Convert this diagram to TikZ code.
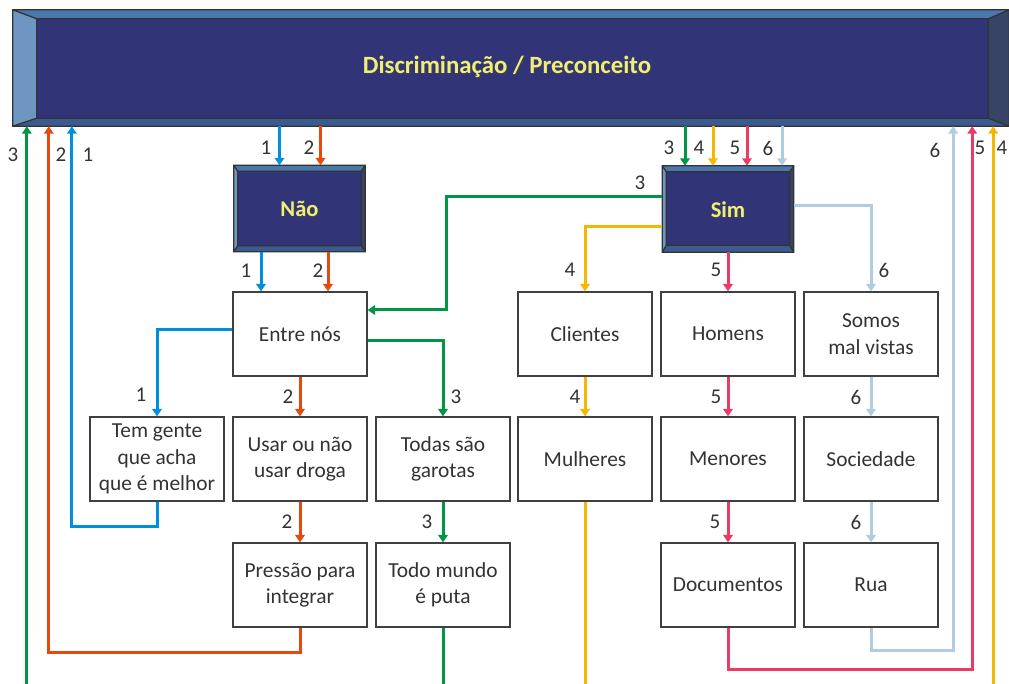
\documentclass[tikz,border=0pt]{standalone}
\usepackage{fontspec}
\setmainfont{Carlito}
\usetikzlibrary{arrows.meta,calc}

\definecolor{face}{HTML}{313578}
\definecolor{bvtopc}{HTML}{4A78AE}
\definecolor{bvleftc}{HTML}{6F96C3}
\definecolor{bvbotc}{HTML}{3A5B8F}
\definecolor{bvrightc}{HTML}{384466}
\definecolor{edgegray}{HTML}{333333}
\definecolor{boxline}{HTML}{404040}
\definecolor{txt}{HTML}{333333}
\definecolor{headtxt}{HTML}{EDED82}
\definecolor{cblue}{HTML}{0090DA}
\definecolor{corange}{HTML}{E8480C}
\definecolor{cgreen}{HTML}{009646}
\definecolor{cyellow}{HTML}{F4B800}
\definecolor{cred}{HTML}{EC3A64}
\definecolor{clight}{HTML}{B0CCE0}

% yellow heading text with a soft drop shadow
\newcommand\shadowtext[1]{\makebox[0pt][l]{\hspace{1.2pt}\raisebox{-1.2pt}{\textcolor{black!75}{#1}}}#1}

% bevelled frame drawn around an (empty) node: name, left, top, right, bottom insets
\newcommand\bevelframe[5]{%
  \coordinate (#1-a) at (#1.north west);
  \coordinate (#1-b) at (#1.north east);
  \coordinate (#1-c) at (#1.south east);
  \coordinate (#1-d) at (#1.south west);
  \coordinate (#1-A) at ($(#1.north west)+(#2,#3)$);
  \coordinate (#1-B) at ($(#1.north east)+(-#4,#3)$);
  \coordinate (#1-C) at ($(#1.south east)+(-#4,-#5)$);
  \coordinate (#1-D) at ($(#1.south west)+(#2,-#5)$);
  \fill[bvtopc] (#1-a)--(#1-b)--(#1-B)--(#1-A)--cycle;
  \fill[bvrightc] (#1-b)--(#1-c)--(#1-C)--(#1-B)--cycle;
  \fill[bvbotc] (#1-c)--(#1-d)--(#1-D)--(#1-C)--cycle;
  \fill[bvleftc] (#1-d)--(#1-a)--(#1-A)--(#1-D)--cycle;
  \fill[face] (#1-A) rectangle (#1-C);
  \draw[edgegray,line width=1.3pt,line join=miter]
    (#1-a) rectangle (#1-c) (#1-A) rectangle (#1-C)
    (#1-a)--(#1-A) (#1-b)--(#1-B) (#1-c)--(#1-C) (#1-d)--(#1-D);
}

\begin{document}
\begin{tikzpicture}[x=1pt,y=-1pt,
  box/.style={draw=boxline,line width=1.2pt,fill=white,minimum width=134pt,
    minimum height=84pt,inner sep=2pt,align=center,text=txt,
    font=\fontsize{21.4}{26.5}\selectfont},
  frame/.style={minimum width=131pt,minimum height=86pt,inner sep=0pt},
  headfont/.style={text=headtxt,font=\fontsize{22.5}{26}\selectfont\bfseries,inner sep=0pt},
  num/.style={text=txt,font=\fontsize{21}{25}\selectfont,inner sep=0pt},
  link/.style={line width=3pt,-{Triangle[width=9.5pt,length=7.5pt]}},
  lblue/.style={link,cblue},
  lorange/.style={link,corange},
  lgreen/.style={link,cgreen},
  lyellow/.style={link,cyellow},
  lred/.style={link,cred},
  llight/.style={link,clight},
]
\useasboundingbox (0,0) rectangle (1009,684);
\clip (0,0) rectangle (1009,684);

% heading banner
\node[minimum width=996pt,minimum height=116pt,inner sep=0pt] (banner) at (511,68) {};
\bevelframe{banner}{24}{9}{21}{8}
\node[headfont,font=\fontsize{24.8}{28}\selectfont\bfseries] (title) at (507,67) {\shadowtext{Discriminação / Preconceito}};

% yes / no boxes
\node[frame] (nao) at (299.5,208.5) {};
\bevelframe{nao}{4}{6}{4}{6}
\node[headfont] (naotxt) at ([yshift=-1pt]nao.center) {\shadowtext{Não}};
\node[frame] (sim) at (728,209) {};
\bevelframe{sim}{4}{6}{4}{7}
\node[headfont] (simtxt) at ([yshift=-1pt]sim.center) {\shadowtext{Sim}};

% first row
\node[box] (entre) at (300,334) {Entre nós};
\node[box] (clientes) at (585,334) {Clientes};
\node[box] (homens) at (728,334) {Homens};
\node[box] (somos) at (871,334) {Somos\\mal vistas};
% second row
\node[box] (tem) at (157,459) {Tem gente\\que acha\\que é melhor};
\node[box] (usar) at (300,459) {Usar ou não\\usar droga};
\node[box] (todas) at (443,459) {Todas são\\garotas};
\node[box] (mulheres) at (585,459) {Mulheres};
\node[box] (menores) at (728,459) {Menores};
\node[box] (sociedade) at (871,459) {Sociedade};
% third row
\node[box] (pressao) at (300,585) {Pressão para\\integrar};
\node[box] (todo) at (443,585) {Todo mundo\\é puta};
\node[box] (documentos) at (728,585) {Documentos};
\node[box] (rua) at (871,585) {Rua};

% banner down to the yes / no boxes
\draw[lblue] ($(nao.north|-banner.south)+(-20,0)$) -- ($(nao.north)+(-20,0)$);
\draw[lorange] ($(nao.north|-banner.south)+(21,0)$) -- ($(nao.north)+(21,0)$);
\draw[lgreen] ($(sim.north|-banner.south)+(-43,0)$) -- ($(sim.north)+(-43,0)$);
\draw[lyellow] ($(sim.north|-banner.south)+(-15,0)$) -- ($(sim.north)+(-15,0)$);
\draw[lred] ($(sim.north|-banner.south)+(19,0)$) -- ($(sim.north)+(19,0)$);
\draw[llight] ($(sim.north|-banner.south)+(54,0)$) -- ($(sim.north)+(54,0)$);

% Não branch
\draw[lblue] ($(entre.north|-nao.south)+(-39,0)$) -- ($(entre.north)+(-39,0)$);
\draw[lorange] ($(entre.north|-nao.south)+(28,0)$) -- ($(entre.north)+(28,0)$);
\draw[lblue] ($(entre.west)+(0,-4)$) -| (tem.north);
\draw[lorange] (entre.south) -- (usar.north);
\draw[lgreen] ($(entre.east)+(0,7)$) -| (todas.north);
\draw[lorange] (usar.south) -- (pressao.north);
\draw[lgreen] (todas.south) -- (todo.north);

% Sim branch
\draw[lgreen] ($(sim.west)+(0,-12)$) -| ($(entre.east)+(79,-24)$) -- ($(entre.east)+(0,-24)$);
\draw[lyellow] ($(sim.west)+(0,18)$) -| (clientes.north);
\draw[lred] (sim.south) -- (homens.north);
\draw[llight] ($(sim.east)+(0,-3)$) -| (somos.north);
\draw[lyellow] (clientes.south) -- (mulheres.north);
\draw[lred] (homens.south) -- (menores.north);
\draw[lred] (menores.south) -- (documentos.north);
\draw[llight] (somos.south) -- (sociedade.north);
\draw[llight] (sociedade.south) -- (rua.north);

% return lines back up to the banner (the two long ones run below the page edge)
\draw[lblue] (tem.south) -- ++(0,25) -| ($(banner.south west)+(59,0)$);
\draw[lorange] (pressao.south) -- ++(0,25) -| ($(banner.south west)+(36,0)$);
\draw[lgreen] (todo.south) -- ++(0,70) -| ($(banner.south west)+(14,0)$);
\draw[lyellow] (mulheres.south) -- ++(0,200) -| ($(banner.south east)+(-16,0)$);
\draw[lred] (documentos.south) -- ++(0,42) -| ($(banner.south east)+(-37,0)$);
\draw[llight] (rua.south) -- ++(0,23) -| ($(banner.south east)+(-56,0)$);

% path numbers
\node[num] (r3) at (13,155) {3};
\node[num] (r2) at (61,155) {2};
\node[num] (r1) at (88,155) {1};
\node[num] (t1) at (266,148) {1};
\node[num] (t2) at (309,148) {2};
\node[num] (t3) at (669,148) {3};
\node[num] (t4) at (699,148) {4};
\node[num] (t5) at (735,148) {5};
\node[num] (t6) at (768,148) {6};
\node[num] (r6) at (935,150) {6};
\node[num] (r5) at (980,148) {5};
\node[num] (r4) at (1002,148) {4};
\node[num] (g3) at (640,183) {3};
\node[num] (a1) at (246,271) {1};
\node[num] (a2) at (318,271) {2};
\node[num] (a4) at (570,270) {4};
\node[num] (a5) at (716,270) {5};
\node[num] (a6) at (884,270) {6};
\node[num] (b1) at (141,395) {1};
\node[num] (b2) at (288,397) {2};
\node[num] (b3) at (456,397) {3};
\node[num] (b4) at (575,397) {4};
\node[num] (b5) at (716,397) {5};
\node[num] (b6) at (856,397) {6};
\node[num] (c2) at (287,522) {2};
\node[num] (c3) at (427,522) {3};
\node[num] (c5) at (715,522) {5};
\node[num] (c6) at (856,522) {6};
\end{tikzpicture}
\end{document}
